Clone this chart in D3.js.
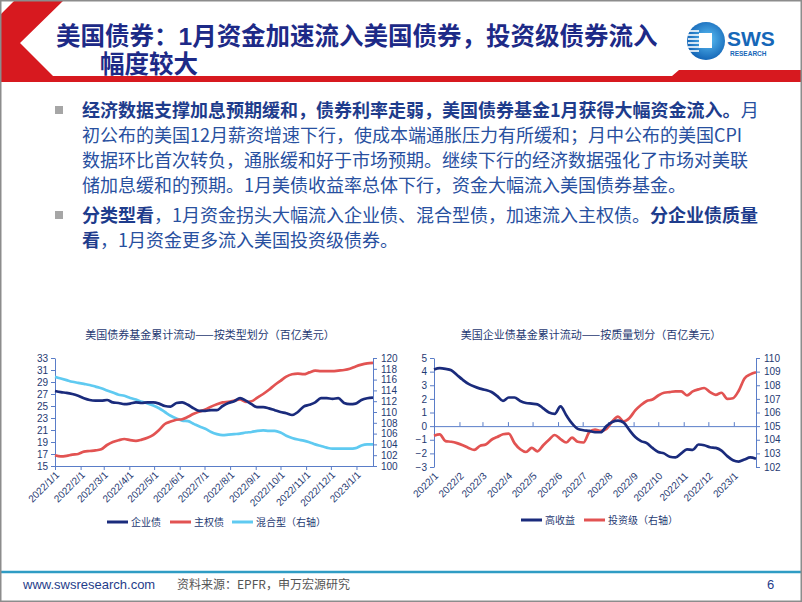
<!DOCTYPE html>
<html>
<head>
<meta charset="utf-8">
<script src="https://cdn.jsdelivr.net/npm/d3@7"></script>
<style>
body { margin: 0; background: #fff; }
svg { display: block; }
text { font-family: "Liberation Sans", "Noto Sans CJK SC", sans-serif; }
.cjk { font-family: "Noto Sans CJK SC", sans-serif; }
</style>
</head>
<body>
<svg id="main"></svg>
<script>
const width = 802;
const height = 602;

// 美国债券基金累计流动（百亿美元），周度
const corpBond = [27.5, 27.3, 27.2, 27.0, 26.7, 26.3, 26.0, 25.9, 25.9, 26.0, 25.6, 25.5, 25.3, 25.4,
    25.6, 25.5, 25.6, 25.6, 25.4, 25.0, 24.9, 25.5, 25.6, 25.2, 24.6, 24.2, 24.2, 24.3, 24.3, 25.0,
    25.5, 25.8, 26.3, 25.9, 25.3, 24.8, 24.8, 24.6, 24.3, 24.0, 23.8, 23.5, 24.0, 24.9, 25.2, 25.6,
    26.3, 26.3, 26.2, 26.3, 25.5, 25.3, 25.4, 26.0, 26.3, 26.4];
const sovBond = [16.8, 16.6, 16.7, 16.9, 17.0, 17.4, 17.5, 17.6, 17.8, 18.5, 19.0, 19.3, 19.5, 19.3,
    19.2, 19.4, 19.7, 20.2, 21.0, 22.0, 22.4, 22.7, 22.8, 23.2, 23.7, 24.1, 24.4, 24.9, 25.3, 25.6,
    25.7, 25.9, 26.1, 25.7, 25.8, 26.4, 27.0, 27.7, 28.5, 29.2, 29.9, 30.3, 30.4, 30.3, 30.6, 30.9,
    30.8, 30.8, 30.8, 30.9, 31.0, 31.2, 31.6, 31.9, 32.1, 32.2];
const mixedBond = [116.5, 116.2, 115.9, 115.6, 115.4, 115.2, 115.0, 114.7, 114.4, 114.0, 113.6, 113.2,
    113.0, 112.6, 112.3, 111.9, 111.6, 111.2, 110.7, 110.0, 109.3, 108.8, 108.4, 108.3, 107.8, 107.3,
    106.9, 106.3, 105.9, 105.7, 105.8, 105.9, 106.0, 106.2, 106.3, 106.5, 106.6, 106.5, 106.5, 106.2,
    105.6, 105.2, 104.9, 104.7, 104.4, 104.0, 103.7, 103.4, 103.2, 103.2, 103.2, 103.2, 103.3, 103.8,
    104.0, 104.0];

// 美国企业债基金累计流动（百亿美元），周度
const highYield = [4.15, 4.25, 4.2, 4.1, 3.75, 3.4, 3.1, 2.9, 2.75, 2.65, 2.5, 2.2, 1.85, 2.1, 2.1,
    1.85, 1.7, 1.65, 1.6, 1.3, 1.0, 0.9, 1.45, 0.8, 0.2, -0.2, -0.3, -0.35, -0.45, -0.45, 0.0, 0.3,
    0.4, 0.25, -0.3, -0.8, -1.1, -1.25, -1.6, -1.9, -2.0, -2.25, -2.3, -2.0, -1.7, -1.75, -1.35,
    -1.4, -1.55, -1.6, -1.8, -2.2, -2.5, -2.6, -2.45, -2.3, -2.4];
const invGrade = [104.3, 104.4, 103.9, 103.85, 103.75, 103.6, 103.4, 103.25, 103.55, 103.65, 104.0,
    104.2, 104.4, 104.45, 103.75, 103.3, 103.1, 103.4, 103.15, 103.6, 104.0, 104.35, 104.05, 103.8,
    104.15, 103.85, 103.8, 104.55, 104.75, 104.65, 104.8, 105.35, 105.7, 105.35, 105.6, 106.15,
    106.55, 106.85, 106.95, 107.25, 107.45, 107.5, 107.55, 107.55, 107.25, 107.55, 107.7, 107.8,
    107.5, 107.3, 107.45, 107.0, 107.05, 107.6, 108.5, 108.8, 108.95];

const startDate = new Date(2022, 0, 1);
const weeks1 = corpBond.map((d, i) => d3.timeDay.offset(startDate, 7 * i));
const weeks2 = highYield.map((d, i) => d3.timeDay.offset(startDate, 7 * i));
const monthTicks = d3.timeMonth.range(new Date(2022, 0, 1), new Date(2023, 0, 2));

const leftTicks1 = d3.range(15, 34, 2);
const rightTicks1 = d3.range(100, 121, 2);
const leftTicks2 = d3.range(-3, 6, 1);
const rightTicks2 = d3.range(102, 111, 1);

const navy = '#1a2b7c';
const red = '#e25352';
const cyan = '#5fcaf1';
const axisColor = '#5a7dc8';
const labelColor = '#1f3a72';

const svg = d3.select('#main').attr('width', width).attr('height', height);

// 页眉
svg.append('polygon')
    .attr('points', '15,0 64,0 20,43 53,76 672,76 679,70 802,70 802,82 0,82 0,15')
    .attr('fill', '#d7191f');

const title = svg.append('g').attr('class', 'cjk').attr('fill', '#1d2a87')
    .attr('font-size', 24.5).attr('font-weight', 700);
title.append('text').attr('x', 56).attr('y', 45).text('美国债券：1月资金加速流入美国债券，投资级债券流入');
title.append('text').attr('x', 100).attr('y', 73).text('幅度较大');

// 标志
const defs = svg.append('defs');
const grad = defs.append('radialGradient').attr('id', 'logoGrad').attr('cx', '55%').attr('cy', '45%').attr('r', '60%');
grad.append('stop').attr('offset', '0%').attr('stop-color', '#5cc0f5');
grad.append('stop').attr('offset', '100%').attr('stop-color', '#0f5fb2');
const logo = svg.append('g').attr('transform', 'translate(706,41)');
logo.append('circle').attr('r', 19).attr('fill', 'url(#logoGrad)');
logo.selectAll('line').data([-10, -6, -2, 2, 6, 10]).join('line')
    .attr('x1', -18).attr('x2', -7).attr('y1', d => d).attr('y2', d => d)
    .attr('stroke', '#fff').attr('stroke-width', 1.6);
logo.append('rect').attr('x', -7).attr('y', -8).attr('width', 13).attr('height', 15).attr('fill', '#fff');
svg.append('text').attr('x', 727).attr('y', 46).attr('font-size', 21).attr('font-weight', 700)
    .attr('fill', '#1667b8').text('SWS');
svg.append('text').attr('x', 730).attr('y', 56).attr('font-size', 6.5).attr('font-weight', 700)
    .attr('fill', '#1667b8').text('RESEARCH');

// 正文
const bodyLines = [
    { y: 117, bullet: true, parts: [['经济数据支撑加息预期缓和，债券利率走弱，美国债券基金1月获得大幅资金流入。', true], ['月', false]] },
    { y: 142, parts: [['初公布的美国12月薪资增速下行，使成本端通胀压力有所缓和；月中公布的美国CPI', false]] },
    { y: 167, parts: [['数据环比首次转负，通胀缓和好于市场预期。继续下行的经济数据强化了市场对美联', false]] },
    { y: 192, parts: [['储加息缓和的预期。1月美债收益率总体下行，资金大幅流入美国债券基金。', false]] },
    { y: 222, bullet: true, parts: [['分类型看', true], ['，1月资金拐头大幅流入企业债、混合型债，加速流入主权债。', false], ['分企业债质量', true]] },
    { y: 247, parts: [['看', true], ['，1月资金更多流入美国投资级债券。', false]] }
];
bodyLines.forEach(line => {
    if (line.bullet) {
        svg.append('rect').attr('x', 55).attr('y', line.y - 11).attr('width', 8).attr('height', 8).attr('fill', '#a6a6a6');
    }
    const t = svg.append('text').attr('class', 'cjk').attr('x', 82).attr('y', line.y).attr('font-size', 18);
    line.parts.forEach(p => {
        t.append('tspan').attr('font-weight', p[1] ? 700 : 400).attr('fill', p[1] ? '#1e3c8c' : '#28509f').text(p[0]);
    });
});

// 图表
function drawChart(cfg) {
    const g = svg.append('g');
    const x = d3.scaleTime().domain(d3.extent(cfg.dates)).range(cfg.xRange);
    const yL = d3.scaleLinear().domain(cfg.leftDomain).range(cfg.yRange);
    const yR = d3.scaleLinear().domain(cfg.rightDomain).range(cfg.yRange);

    g.append('text').attr('class', 'cjk').attr('x', (cfg.xRange[0] + cfg.xRange[1]) / 2 + cfg.titleShift)
        .attr('y', 339).attr('text-anchor', 'middle').attr('font-size', 11).attr('fill', labelColor)
        .text(cfg.title);

    const styleAxis = sel => {
        sel.selectAll('path,line').attr('stroke', axisColor);
        sel.selectAll('text').attr('fill', labelColor).attr('font-size', 10);
    };
    g.append('g').attr('transform', `translate(${cfg.xRange[0]},0)`)
        .call(d3.axisLeft(yL).tickValues(cfg.leftTicks).tickSizeInner(4).tickSizeOuter(0).tickPadding(3))
        .call(styleAxis);
    g.append('g').attr('transform', `translate(${cfg.xRange[1]},0)`)
        .call(d3.axisRight(yR).tickValues(cfg.rightTicks).tickSizeInner(4).tickSizeOuter(0).tickPadding(4))
        .call(styleAxis);

    // 横轴线与刻度
    const baseY = cfg.zeroLine ? yL(0) : cfg.yRange[0];
    g.append('g').attr('transform', `translate(0,${baseY})`)
        .call(d3.axisBottom(x).tickValues(monthTicks).tickFormat('').tickSizeInner(cfg.zeroLine ? -4 : 4).tickSizeOuter(0))
        .call(styleAxis);
    // 横轴标签
    const labels = g.append('g').attr('transform', `translate(0,${cfg.yRange[0]})`)
        .call(d3.axisBottom(x).tickValues(monthTicks).tickFormat(d3.timeFormat(cfg.dateFormat)).tickSize(0))
        .call(styleAxis);
    labels.select('.domain').remove();
    labels.selectAll('text').attr('x', 0).attr('y', 0).attr('dy', '0.35em')
        .attr('text-anchor', 'end').attr('transform', 'translate(2,7) rotate(-45)');

    cfg.series.forEach(s => {
        const y = s.axis === 'right' ? yR : yL;
        const line = d3.line().x((d, i) => x(cfg.dates[i])).y(d => y(d)).curve(d3.curveMonotoneX);
        g.append('path').datum(s.values).attr('d', line).attr('fill', 'none')
            .attr('stroke', s.color).attr('stroke-width', 2.7).attr('stroke-linejoin', 'round');
    });

    // 图例
    cfg.legend.forEach(item => {
        g.append('line').attr('x1', item.x).attr('x2', item.x + 21).attr('y1', cfg.legendY).attr('y2', cfg.legendY)
            .attr('stroke', item.color).attr('stroke-width', 3);
        g.append('text').attr('class', 'cjk').attr('x', item.x + 24).attr('y', cfg.legendY + 3.5)
            .attr('font-size', 10).attr('fill', labelColor).text(item.label);
    });
}

drawChart({
    title: '美国债券基金累计流动——按类型划分（百亿美元）',
    titleShift: -4,
    dates: weeks1,
    xRange: [55, 373],
    yRange: [466, 358],
    leftDomain: [15, 33],
    rightDomain: [100, 120],
    leftTicks: leftTicks1,
    rightTicks: rightTicks1,
    dateFormat: '%Y/%-m/%-d',
    zeroLine: false,
    series: [
        { values: mixedBond, axis: 'right', color: cyan },
        { values: sovBond, axis: 'left', color: red },
        { values: corpBond, axis: 'left', color: navy }
    ],
    legendY: 522,
    legend: [
        { x: 107, color: navy, label: '企业债' },
        { x: 170, color: red, label: '主权债' },
        { x: 232, color: cyan, label: '混合型（右轴）' }
    ]
});

drawChart({
    title: '美国企业债基金累计流动——按质量划分（百亿美元）',
    titleShift: -4,
    dates: weeks2,
    xRange: [434, 756],
    yRange: [467, 358],
    leftDomain: [-3, 5],
    rightDomain: [102, 110],
    leftTicks: leftTicks2,
    rightTicks: rightTicks2,
    dateFormat: '%Y/%-m',
    zeroLine: true,
    series: [
        { values: invGrade, axis: 'right', color: red },
        { values: highYield, axis: 'left', color: navy }
    ],
    legendY: 520,
    legend: [
        { x: 521, color: navy, label: '高收益' },
        { x: 584, color: red, label: '投资级（右轴）' }
    ]
});

// 页脚
svg.append('line').attr('x1', 0).attr('x2', width).attr('y1', 572).attr('y2', 572)
    .attr('stroke', '#2f9cc4').attr('stroke-width', 2.5);
svg.append('text').attr('x', 23).attr('y', 589).attr('font-size', 13).attr('fill', '#1f3d8a').text('www.swsresearch.com');
svg.append('text').attr('class', 'cjk').attr('x', 177).attr('y', 589).attr('font-size', 12).attr('fill', '#555')
    .text('资料来源：EPFR，申万宏源研究');
svg.append('text').attr('x', 767).attr('y', 589).attr('font-size', 13).attr('fill', '#1f3d8a').text('6');

// 边框
svg.append('rect').attr('x', 0.75).attr('y', 0.75).attr('width', width - 1.5).attr('height', height - 1.5)
    .attr('fill', 'none').attr('stroke', '#8c8c8c').attr('stroke-width', 1.5);
</script>
</body>
</html>
